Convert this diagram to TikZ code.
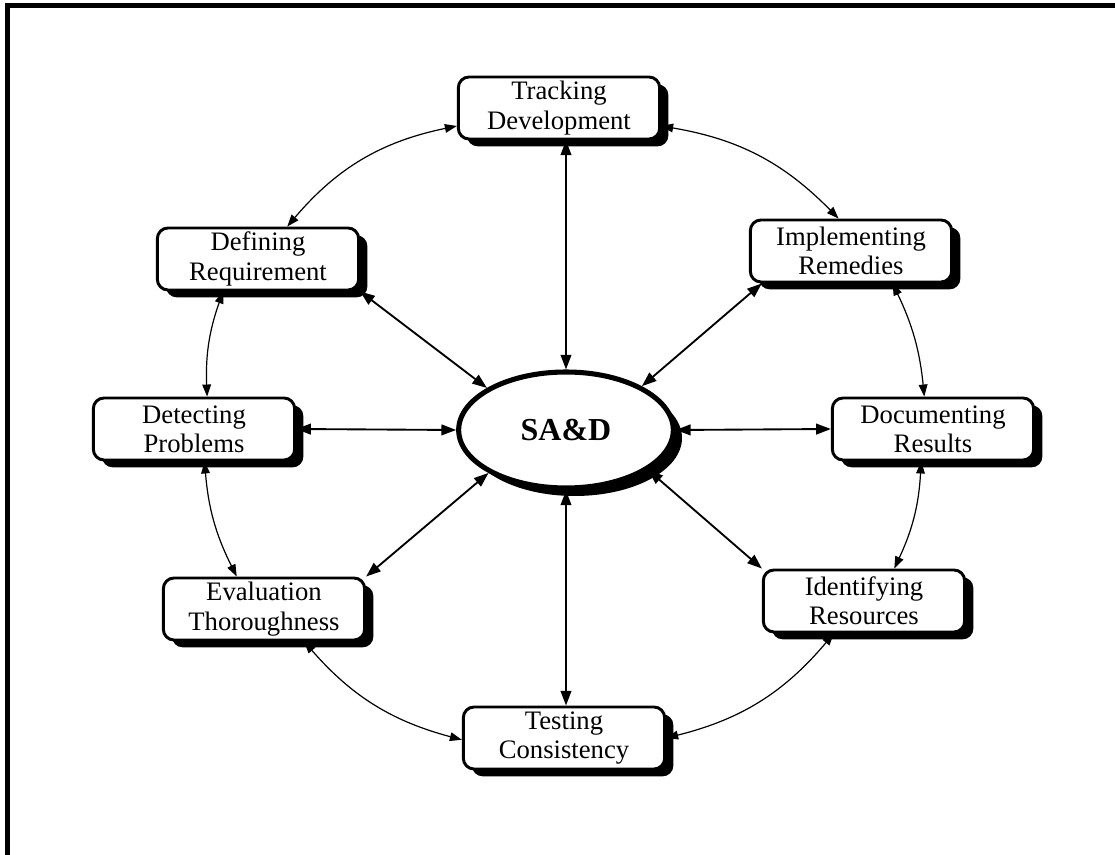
\documentclass[tikz,border=0pt]{standalone}
\usepackage{fontspec}
\setmainfont{Liberation Serif}
\usetikzlibrary{arrows.meta,shapes.geometric,shadows}

\tikzset{
  task/.style={draw, line width=2.2pt, rounded corners=8pt, fill=white, align=center,
    minimum width=151pt, minimum height=46.5pt, inner sep=1pt,
    font=\fontsize{20}{22}\selectfont,
    drop shadow={shadow xshift=6.5pt, shadow yshift=-5.5pt, fill=black, opacity=1}},
  hub/.style={ellipse, draw, line width=3.8pt, fill=white,
    minimum width=161pt, minimum height=87pt, inner sep=0pt,
    font=\fontsize{24}{28}\selectfont\bfseries,
    drop shadow={shadow xshift=6.5pt, shadow yshift=-6pt, fill=black, opacity=1}},
  spoke/.style={arrows={Triangle[length=11pt,width=8pt]-Triangle[length=11pt,width=8pt]}, line width=1.4pt},
  ring/.style={arrows={Triangle[length=9pt,width=6.5pt]-Triangle[length=9pt,width=6.5pt]}, line width=0.9pt}
}

\begin{document}
\begin{tikzpicture}[x=0.75pt, y=-0.75pt]
    \useasboundingbox (0,0) rectangle (1115,855);
    \draw [line width=3.75pt] (7.5,855) -- (7.5,5.5) -- (1115,5.5);

    \node [hub] (sad) at (566,430) {SA\&D};
    \node [task] (track) at (559,108) {Tracking\\Development};
    \node [task] (def) at (258,259) {Defining\\Requirement};
    \node [task] (imp) at (851,251) {Implementing\\Remedies};
    \node [task] (det) at (194,429) {Detecting\\Problems};
    \node [task] (doc) at (933,429) {Documenting\\Results};
    \node [task] (eva) at (264,609) {Evaluation\\Thoroughness};
    \node [task] (ide) at (864,601) {Identifying\\Resources};
    \node [task] (tst) at (564,738) {Testing\\Consistency};

    % spokes to the hub
    \draw [spoke] (track.south -| sad.north) -- (sad.north);
    \draw [spoke] (sad.south) -- (sad.south |- tst.north);
    \draw [spoke] (def.south east) -- (sad.152);
    \draw [spoke] (imp.200) -- (sad.30);
    \draw [spoke] (det.east) -- (sad.west);
    \draw [spoke] (doc.west) -- (sad.east);
    \draw [spoke] (eva.north east) -- (sad.209);
    \draw [spoke] (ide.north west) -- (sad.334);

    % outer ring
    \draw [ring] (track.190) to [bend right=19] (def.48);
    \draw [ring] (def.223) to [bend right=11] (det.68);
    \draw [ring] (det.288) to [bend right=11] (eva.130);
    \draw [ring] (eva.321) to [bend right=17] (tst.181);
    \draw [ring] (tst.east) to [bend right=18] (ide.227);
    \draw [ring] (ide.47) to [bend right=11] (doc.250);
    \draw [ring] (doc.105) to [bend right=10] (imp.322);
    \draw [ring] (imp.111) to [bend right=18] (track.350);
\end{tikzpicture}
\end{document}
